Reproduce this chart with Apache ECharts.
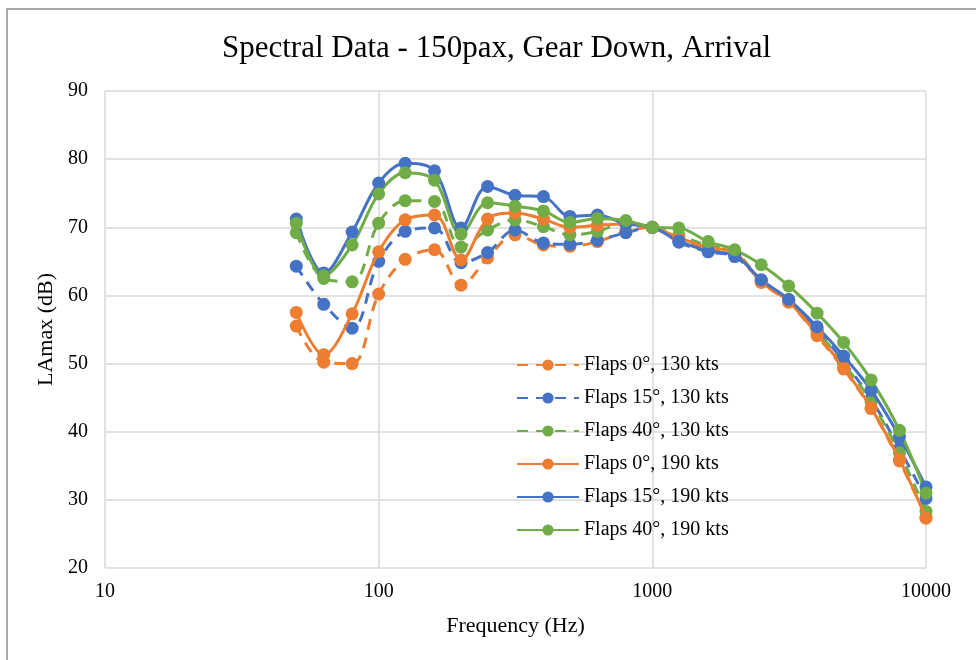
<!DOCTYPE html>
<html>
<head>
<meta charset="utf-8">
<script src="https://cdn.jsdelivr.net/npm/echarts@6/dist/echarts.min.js"></script>
<style>html,body{margin:0;padding:0;background:#fff;}#c{width:976px;height:660px;}</style>
</head>
<body>
<div id="c"></div>
<script>
var freqs = [50, 63, 80, 100, 125, 160, 200, 250, 315, 400, 500, 630, 800, 1000, 1250, 1600, 2000, 2500, 3150, 4000, 5000, 6300, 8000, 10000];
var seriesNames = ['Flaps 0°, 130 kts', 'Flaps 15°, 130 kts', 'Flaps 40°, 130 kts', 'Flaps 0°, 190 kts', 'Flaps 15°, 190 kts', 'Flaps 40°, 190 kts'];
var flaps0_130  = [55.5, 50.2, 50.0, 60.2, 65.3, 66.7, 61.5, 65.5, 68.9, 67.4, 67.2, 67.9, 69.4, 70.0, 68.3, 66.9, 66.2, 61.9, 59.0, 54.1, 49.2, 43.4, 35.7, 27.5];
var flaps15_130 = [64.3, 58.7, 55.2, 65.0, 69.4, 69.9, 64.8, 66.3, 69.6, 67.7, 67.5, 68.1, 69.2, 70.0, 67.8, 66.4, 65.7, 62.2, 59.3, 55.0, 50.3, 44.8, 37.5, 30.2];
var flaps40_130 = [69.2, 62.5, 62.0, 70.6, 73.9, 73.8, 67.1, 69.6, 71.1, 70.1, 68.9, 69.4, 70.7, 70.0, 68.8, 67.3, 66.4, 62.2, 59.4, 54.8, 50.0, 44.4, 36.9, 28.3];
var flaps0_190  = [57.5, 51.3, 57.3, 66.4, 71.1, 71.8, 65.2, 71.2, 72.1, 71.2, 70.0, 70.3, 70.5, 70.0, 68.5, 67.0, 66.3, 62.0, 59.1, 54.3, 49.4, 43.5, 35.9, 27.3];
var flaps15_190 = [71.2, 63.3, 69.3, 76.5, 79.4, 78.3, 69.9, 76.0, 74.7, 74.5, 71.6, 71.8, 70.5, 70.0, 68.0, 66.5, 65.9, 62.3, 59.4, 55.4, 51.1, 46.1, 39.3, 31.9];
var flaps40_190 = [70.6, 62.9, 67.4, 74.9, 78.0, 76.9, 69.0, 73.6, 73.1, 72.4, 70.7, 71.3, 71.0, 70.0, 69.9, 67.9, 66.7, 64.5, 61.4, 57.4, 53.1, 47.6, 40.2, 31.0];
var yTicks = [20, 30, 40, 50, 60, 70, 80, 90];
var xTicks = [10, 100, 1000, 10000];

var allValues = [flaps0_130, flaps15_130, flaps40_130, flaps0_190, flaps15_190, flaps40_190];
var colors = ['#ED7D31', '#4472C4', '#70AD47', '#ED7D31', '#4472C4', '#70AD47'];
var dashed = [true, true, true, false, false, false];
var FONT = '"Liberation Serif", "Times New Roman", serif';

var series = allValues.map(function (vals, i) {
  return {
    name: seriesNames[i],
    type: 'line',
    smooth: 0.35,
    data: freqs.map(function (f, k) { return [f, vals[k]]; }),
    symbol: 'circle',
    symbolSize: 13,
    itemStyle: { color: colors[i] },
    lineStyle: { color: colors[i], width: 3, type: dashed[i] ? [11, 8] : 'solid' },
    emphasis: { disabled: true },
    z: dashed[i] ? 2 : 3
  };
});

var chart = echarts.init(document.getElementById('c'), null, { renderer: 'canvas' });
chart.setOption({
  animation: false,
  backgroundColor: '#fff',
  title: {
    text: 'Spectral Data - 150pax, Gear Down, Arrival',
    left: 217, top: 28,
    textStyle: { fontFamily: FONT, fontSize: 31, fontWeight: 'normal', color: '#000' }
  },
  graphic: [{
    type: 'rect', shape: { x: 7, y: 9, width: 1000, height: 700 },
    style: { fill: 'none', stroke: '#8c8c8c', lineWidth: 1.5 }, silent: true, z: -1
  }],
  legend: {
    orient: 'vertical',
    left: 511, top: 350,
    itemWidth: 62, itemHeight: 14, itemGap: 13,
    textStyle: { fontFamily: FONT, fontSize: 20, color: '#000', lineHeight: 20 },
    data: seriesNames
  },
  grid: { left: 105, right: 50, top: 91, bottom: 92, containLabel: false },
  xAxis: {
    type: 'log', logBase: 10, min: xTicks[0], max: xTicks[xTicks.length - 1],
    name: 'Frequency (Hz)', nameLocation: 'middle', nameGap: 47,
    nameTextStyle: { fontFamily: FONT, fontSize: 22, color: '#000' },
    axisLine: { show: false }, axisTick: { show: false },
    axisLabel: { fontFamily: FONT, fontSize: 20, color: '#000', margin: 14,
      formatter: function (v) { return String(Math.round(v)); } },
    splitLine: { show: true, lineStyle: { color: '#d9d9d9', width: 1.5 } },
    minorTick: { show: false }
  },
  yAxis: {
    type: 'value', min: yTicks[0], max: yTicks[yTicks.length - 1], interval: 10,
    name: 'LAmax (dB)', nameLocation: 'middle', nameGap: 44,
    nameTextStyle: { fontFamily: FONT, fontSize: 22, color: '#000' },
    axisLine: { show: false }, axisTick: { show: false },
    axisLabel: { fontFamily: FONT, fontSize: 20, color: '#000', margin: 17 },
    splitLine: { show: true, lineStyle: { color: '#d9d9d9', width: 1.5 } }
  },
  series: series
});
</script>
</body>
</html>
